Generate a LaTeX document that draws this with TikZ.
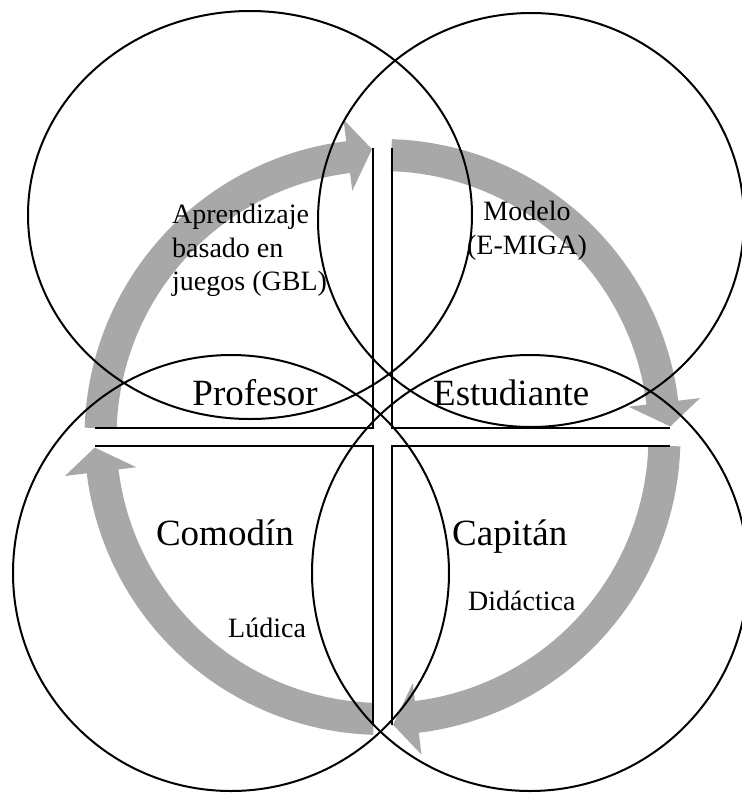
\documentclass[tikz,border=0pt]{standalone}
\usepackage{fontspec}
\setmainfont{Liberation Serif}
\usetikzlibrary{shapes.geometric}
\definecolor{arrowgray}{RGB}{168,168,168}
\newcommand\cyclearrow[3]{%
  \fill[arrowgray] plot[domain=#1:#2, samples=40] ({\cx+298*cos(\x)},{\cy+298*sin(\x)})
    -- ({\cx+320*cos(#2)},{\cy+320*sin(#2)})
    -- ({\cx+288*cos(#3)},{\cy+288*sin(#3)})
    -- ({\cx+248*cos(#2)},{\cy+248*sin(#2)})
    -- plot[domain=#2:#1, samples=40] ({\cx+266*cos(\x)},{\cy+266*sin(\x)}) -- cycle;}
\begin{document}
\begin{tikzpicture}[x=1pt,y=-1pt,
  ring/.style={draw=black, line width=2pt, ellipse, inner sep=0pt, fill=none},
  crossline/.style={draw=black, line width=1.6pt},
  smalltext/.style={inner sep=0pt, font=\fontsize{28}{33.5}\selectfont},
  bigtext/.style={inner sep=0pt, font=\fontsize{37}{42}\selectfont}]
\useasboundingbox (0,0) rectangle (742,793);
\fill[white] (0,0) rectangle (742,793);
\def\cx{382.5}\def\cy{437}
% gray cycle arrows
\cyclearrow{181.8}{263}{267.9}
\cyclearrow{271.8}{353}{357.9}
\cyclearrow{1.8}{83}{87.9}
\cyclearrow{91.8}{173}{177.9}
% cross lines
\coordinate (tla) at (95,428); \coordinate (tlb) at (373,428); \coordinate (tlc) at (373,148);
\coordinate (tra) at (392,148); \coordinate (trb) at (392,428); \coordinate (trc) at (670,428);
\coordinate (bra) at (670,446); \coordinate (brb) at (392,446); \coordinate (brc) at (392,725);
\coordinate (bla) at (373,725); \coordinate (blb) at (373,446); \coordinate (blc) at (95,446);
\draw[crossline] (tla) -- (tlb) -- (tlc);
\draw[crossline] (tra) -- (trb) -- (trc);
\draw[crossline] (bra) -- (brb) -- (brc);
\draw[crossline] (bla) -- (blb) -- (blc);
% circles
\node[ring, minimum width=444pt, minimum height=408pt] (ctl) at (250,215) {};
\node[ring, minimum width=426pt, minimum height=414pt] (ctr) at (531,220) {};
\node[ring, minimum width=436pt, minimum height=436pt] (cbl) at (231,573) {};
\node[ring, minimum width=436pt, minimum height=436pt] (cbr) at (530,573) {};
% texts
\node[smalltext, anchor=north west, align=left] (gbl) at (172,204) {Aprendizaje\\basado en\\juegos (GBL)};
\node[smalltext, anchor=north, align=center] (modelo) at (527,201) {Modelo\\(E-MIGA)};
\node[bigtext, anchor=base east] (prof) at (318,405) {Profesor};
\node[bigtext, anchor=base west] (est) at (433,405) {Estudiante};
\node[bigtext, anchor=base east] (com) at (294,545) {Comodín};
\node[bigtext, anchor=base west] (cap) at (452,545) {Capitán};
\node[smalltext, anchor=base west] (lud) at (228,637) {Lúdica};
\node[smalltext, anchor=base west] (did) at (468,610) {Didáctica};
\end{tikzpicture}
\end{document}
